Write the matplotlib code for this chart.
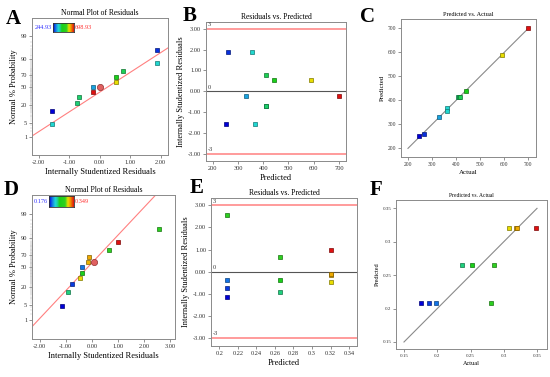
import matplotlib
matplotlib.use('Agg')
import matplotlib.pyplot as plt
import numpy as np
from statistics import NormalDist
from matplotlib.colors import LinearSegmentedColormap

plt.rcParams['font.family'] = ['Liberation Serif', 'DejaVu Serif']

# ---------------- data: model 1 (panels A, B, C) ----------------
prob1 = [4.5, 13.6, 22.7, 31.8, 40.9, 50.0, 59.1, 68.2, 77.3, 86.4, 95.5]
res1 = [-1.57, -1.57, -0.73, -0.69, -0.23, -0.22, 0.53, 0.53, 0.77, 1.87, 1.87]
act1 = [362, 244, 407, 410, 699, 329, 591, 443, 417, 364, 268]
pred1 = [368, 251, 412, 412, 700, 331, 589, 441, 412, 357, 261]
range1 = [244.93, 698.93]
sel1 = [0.01, 49.5]           # highlighted point (residual, % prob)
line1 = [-0.245, 0.91]        # normal line (intercept, slope) in z units

# ---------------- data: model 2 (panels D, E, F) ----------------
prob2 = [4.5, 13.6, 22.7, 31.8, 40.9, 50.0, 59.1, 68.2, 77.3, 86.4, 95.5]
res2 = [-1.14, -0.90, -0.75, -0.45, -0.38, -0.36, -0.13, -0.09, 0.67, 0.99, 2.57]
act2 = [0.176, 0.237, 0.187, 0.308, 0.253, 0.198, 0.318, 0.320, 0.285, 0.349, 0.281]
pred2 = [0.208, 0.265, 0.208, 0.321, 0.265, 0.208, 0.321, 0.321, 0.265, 0.321, 0.208]
range2 = [0.176, 0.349]
sel2 = [0.09, 60.0]
line2 = [0.19, 1.213]

prob_ticks = [1, 5, 20, 50, 70, 90, 99]

cmap = LinearSegmentedColormap.from_list('de', [
    (0.0, '#0000d8'), (0.13, '#1478e6'), (0.25, '#20d8d8'), (0.33, '#20d0a0'),
    (0.42, '#18d018'), (0.65, '#30d020'), (0.76, '#e8e000'), (0.85, '#f0a000'),
    (1.0, '#e01010')])

nd = NormalDist()
def zval(p):
    return [nd.inv_cdf(v / 100.0) for v in p]

W, H = 550, 377
fig = plt.figure(figsize=(W / 100, H / 100), dpi=100)

def add_ax(l, r, t, b):
    return fig.add_axes([l / W, 1 - b / H, (r - l) / W, (b - t) / H])

def style(ax, title, xl, yl, tfs, lfs, kfs, xpad=2, ypad=2):
    for s in ax.spines.values():
        s.set_color('#8a8a8a')
        s.set_linewidth(0.7)
    ax.tick_params(direction='out', length=2, width=0.5, colors='#666666',
                   labelsize=kfs, pad=1.5, labelcolor='#333333')
    ax.set_title(title, fontsize=tfs, pad=2)
    ax.set_xlabel(xl, fontsize=lfs, labelpad=xpad)
    ax.set_ylabel(yl, fontsize=lfs, labelpad=ypad)

def points(ax, xs, ys, vals, rng):
    for x, y, v in zip(xs, ys, vals):
        c = np.array(cmap((v - rng[0]) / (rng[1] - rng[0]))[:3])
        ax.plot(x, y, 's', ms=3, mfc=c, mec=c * 0.55, mew=0.5, zorder=3)

def colorbar_box(l, r, t, b, rng, fmt):
    cax = add_ax(l, r, t, b)
    cax.imshow(np.linspace(0, 1, 100)[None, :], aspect='auto', cmap=cmap)
    cax.set_xticks([]); cax.set_yticks([])
    for s in cax.spines.values():
        s.set_color('#333333'); s.set_linewidth(0.6)
    fig.text((l - 1) / W, 1 - (t + b) / 2 / H, fmt % rng[0], color='#3030ff',
             fontsize=4.5, ha='right', va='center')
    fig.text((r + 1) / W, 1 - (t + b) / 2 / H, fmt % rng[1], color='#ff3030',
             fontsize=4.5, ha='left', va='center')

def normal_plot(ax, res, prob, vals, rng, sel, line, xlim, xticks):
    ax.set_xlim(xlim)
    ax.set_ylim(-3.14, 3.17)
    xx = np.array(xlim)
    ax.plot(xx, line[0] + line[1] * xx, color='#ff8080', lw=0.8, zorder=2)
    points(ax, res, zval(prob), vals, rng)
    ax.plot(sel[0], zval([sel[1]])[0], 'o', ms=4.5, mfc='#e06060', mec='#903030',
            mew=0.5, zorder=4)
    ax.set_yticks(zval(prob_ticks))
    ax.set_yticklabels([str(p) for p in prob_ticks])
    ax.set_yticks(zval(range(1, 100)), minor=True)
    ax.tick_params(axis='y', which='minor', length=1.5, width=0.25, colors='#aaaaaa')
    ax.set_xticks(xticks)
    ax.set_xticklabels(['%.2f' % t for t in xticks])
    style(ax, 'Normal Plot of Residuals', 'Internally Studentized Residuals',
          'Normal % Probability', 5.5, 6, 4.6)

def resid_plot(ax, pred, res, vals, rng, xlim, xticks, xfmt):
    ax.set_xlim(xlim)
    ax.set_ylim(-3.35, 3.33)
    for lv in [3, -3]:
        ax.axhline(lv, color='#ff8080', lw=1.1, zorder=2)
    ax.axhline(0, color='#555555', lw=0.8, zorder=2)
    for lv, s in [(3, '3'), (0, '0'), (-3, '-3')]:
        ax.text(0.015, lv + 0.08, s, transform=ax.get_yaxis_transform(),
                fontsize=4.5, ha='left', va='bottom', color='#333333')
    points(ax, pred, res, vals, rng)
    ax.set_yticks([3, 2, 1, 0, -1, -2, -3])
    ax.set_yticklabels(['%.2f' % t for t in [3, 2, 1, 0, -1, -2, -3]])
    ax.set_xticks(xticks)
    ax.set_xticklabels([xfmt(t) for t in xticks])
    style(ax, 'Residuals vs. Predicted', 'Predicted',
          'Internally Studentized Residuals', 5.5, 6, 4.6)

def pva_plot(ax, act, pred, vals, rng, lim, ticks, fmt, tfs, lfs, kfs):
    ax.set_xlim(lim[0], lim[1])
    ax.set_ylim(lim[2], lim[3])
    ax.plot([ticks[0], ticks[-1]], [ticks[0], ticks[-1]], color='#8a8a8a', lw=0.8, zorder=2)
    points(ax, act, pred, vals, rng)
    ax.set_xticks(ticks); ax.set_yticks(ticks)
    ax.set_xticklabels([fmt(t) for t in ticks])
    ax.set_yticklabels([fmt(t) for t in ticks])
    style(ax, 'Predicted vs. Actual', 'Actual', 'Predicted', tfs, lfs, kfs)

# ---- Panel A ----
axA = add_ax(32, 168, 18, 155)
normal_plot(axA, res1, prob1, act1, range1, sel1, line1, (-2.22, 2.24),
            [-2, -1, 0, 1, 2])
colorbar_box(53, 74, 23, 32, range1, '%.2f')

# ---- Panel B ----
axB = add_ax(206, 346, 22, 161)
resid_plot(axB, pred1, res1, act1, range1, (173.5, 727.8),
           [200, 300, 400, 500, 600, 700], lambda t: '%d' % t)

# ---- Panel C ----
axC = add_ax(401, 536, 19, 157)
pva_plot(axC, act1, pred1, act1, range1, (171, 732, 164, 739),
         [200, 300, 400, 500, 600, 700], lambda t: '%d' % t, 4.5, 5, 4)

# ---- Panel D ----
axD = add_ax(32, 175, 195, 339)
normal_plot(axD, res2, prob2, act2, range2, sel2, line2, (-2.30, 3.20),
            [-2, -1, 0, 1, 2, 3])
colorbar_box(49, 74, 196, 207, range2, '%.3f')

# ---- Panel E ----
axE = add_ax(211, 357, 198, 346)
resid_plot(axE, pred2, res2, act2, range2, (0.191, 0.3486),
           [0.2, 0.22, 0.24, 0.26, 0.28, 0.3, 0.32, 0.34], lambda t: '%g' % t)

# ---- Panel F ----
axF = add_ax(396, 547, 200, 349)
pva_plot(axF, act2, pred2, act2, range2, (0.138, 0.365, 0.1395, 0.3625),
         [0.15, 0.2, 0.25, 0.3, 0.35], lambda t: '%g' % t, 4, 4.5, 3.6)

# ---- panel letters ----
for s, x, y in [('A', 6, 24), ('B', 183, 21), ('C', 360, 22),
                ('D', 4, 195), ('E', 190, 193), ('F', 370, 195)]:
    fig.text(x / W, 1 - y / H, s, fontsize=15, fontweight='bold',
             ha='left', va='baseline')

fig.savefig('out.png', dpi=100)
